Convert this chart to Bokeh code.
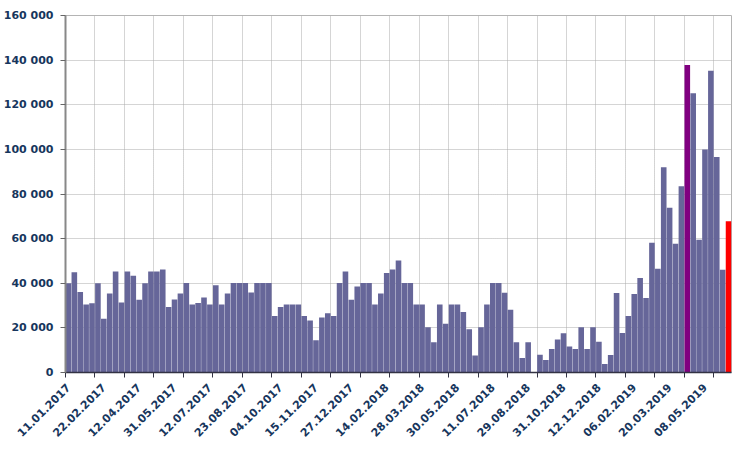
import numpy as np
from math import pi
from bokeh.plotting import figure
from bokeh.models import FixedTicker, ColumnDataSource, Range1d
from bokeh.embed import file_html
from bokeh.resources import INLINE

# ---- data ----
values = [
    40000, 44900, 36100, 30500, 31000, 40000, 24100, 35400, 45300, 31400,
    45300, 43400, 32600, 40000, 45300, 45300, 46200, 29300, 32700, 35400,
    40100, 30500, 31100, 33600, 30500, 39100, 30500, 35400, 40100, 40100,
    40100, 35800, 40100, 40100, 40100, 25300, 29300, 30500, 30500, 30500,
    25300, 23300, 14500, 24700, 26500, 25300, 40100, 45300, 32600, 38500,
    40100, 40100, 30500, 35400, 44600, 46200, 50200, 40100, 40100, 30500,
    30500, 20300, 13600, 30500, 21900, 30500, 30500, 27100, 19400, 7600,
    20300, 30500, 40100, 40100, 35700, 28100, 13600, 6500, 13600, 0,
    8000, 5600, 10500, 14800, 17600, 11600, 10500, 20300, 10500, 20300,
    13800, 3800, 7800, 35600, 17700, 25300, 35200, 42300, 33400, 58100,
    46500, 92000, 73800, 57700, 83500, 137800, 125200, 59500, 100000, 135200,
    96600, 46100, 67800,
]
x_tick_labels = [
    "11.01.2017", "22.02.2017", "12.04.2017", "31.05.2017", "12.07.2017",
    "23.08.2017", "04.10.2017", "15.11.2017", "27.12.2017", "14.02.2018",
    "28.03.2018", "30.05.2018", "11.07.2018", "29.08.2018", "31.10.2018",
    "12.12.2018", "06.02.2019", "20.03.2019", "08.05.2019",
]
label_step = 6          # categories between date labels
grid_step = 5           # categories between tick marks / grid lines
purple_index = 105
red_index = 112
y_ticks = [0, 20000, 40000, 60000, 80000, 100000, 120000, 140000, 160000]
y_tick_labels = ["0", "20 000", "40 000", "60 000", "80 000",
                 "100 000", "120 000", "140 000", "160 000"]

# ---- build ----
n = len(values)
xs = np.arange(n) + 0.5
colors = ["#666699"] * n
colors[purple_index] = "#800080"
colors[red_index] = "#FF0000"
source = ColumnDataSource(dict(x=xs, top=values, color=colors))

p = figure(width=742, height=452,
           x_range=Range1d(0, n), y_range=Range1d(0, 160000),
           output_backend="svg", toolbar_location=None,
           min_border_left=65, min_border_right=11,
           min_border_top=15, min_border_bottom=80)
p.background_fill_color = "white"
p.border_fill_color = "white"
p.outline_line_color = "#b4b4b4"

p.vbar(x="x", top="top", bottom=0, width=0.95, fill_color="color",
       line_color=None, source=source)

font = "DejaVu Sans"
label_color = "#17365D"

label_pos = [i * label_step + 0.5 for i in range(len(x_tick_labels))]
grid_pos = list(range(0, n, grid_step))

xa = p.xaxis[0]
xa.ticker = FixedTicker(ticks=label_pos, minor_ticks=grid_pos)
xa.major_label_overrides = {pos: lbl for pos, lbl in zip(label_pos, x_tick_labels)}
xa.major_label_orientation = pi / 4
xa.major_tick_out = 0
xa.major_tick_in = 0
xa.minor_tick_out = 5
xa.minor_tick_in = 0
xa.minor_tick_line_color = "#333344"
xa.axis_line_color = "#333344"
xa.axis_line_width = 1.5
xa.major_label_text_font = font
xa.major_label_text_font_style = "bold"
xa.major_label_text_font_size = "11px"
xa.major_label_text_color = label_color
xa.major_label_standoff = 8

ya = p.yaxis[0]
ya.ticker = FixedTicker(ticks=y_ticks)
ya.major_label_overrides = {t: l for t, l in zip(y_ticks, y_tick_labels)}
ya.minor_tick_line_color = None
ya.axis_line_color = "#888888"
ya.axis_line_width = 2
ya.major_tick_out = 5
ya.major_tick_in = 0
ya.major_tick_line_color = "#666666"
ya.major_label_text_font = font
ya.major_label_text_font_style = "bold"
ya.major_label_text_font_size = "11px"
ya.major_label_text_color = label_color
ya.major_label_standoff = 7

p.xgrid.ticker = FixedTicker(ticks=grid_pos)
p.xgrid.grid_line_color = "#aaaaaa"
p.xgrid.grid_line_dash = "1 1"
p.ygrid.grid_line_color = "#aaaaaa"
p.ygrid.grid_line_dash = "1 1"

open("out.html", "w").write(file_html(p, INLINE))
